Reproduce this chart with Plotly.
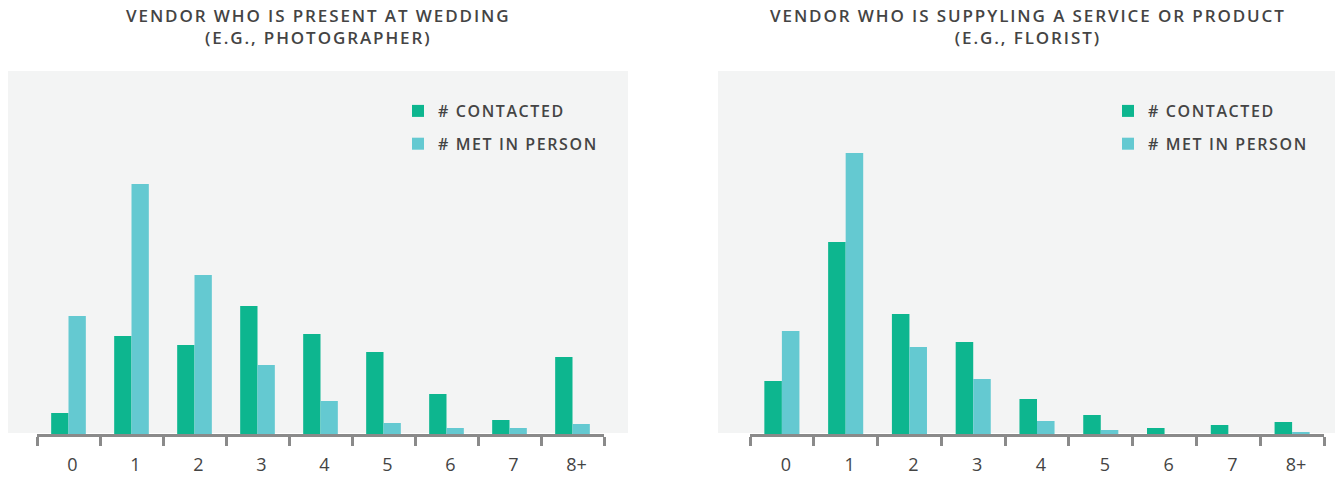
import plotly.graph_objects as go

categories = ["0", "1", "2", "3", "4", "5", "6", "7", "8+"]

# Left panel: vendor present at wedding (e.g., photographer)
present_contacted = [21, 98, 89, 128, 100, 82, 40, 14, 77]
present_met = [118, 250, 159, 69, 33, 11, 6, 6, 10]

# Right panel: vendor supplying service/product (e.g., florist)
supply_contacted = [53, 192, 120, 92, 35, 19, 6, 9, 12]
supply_met = [103, 281, 87, 55, 13, 4, 0, 0, 2]

series_names = ["# CONTACTED", "# MET IN PERSON"]
titles = [
    ["VENDOR WHO IS PRESENT AT WEDDING", "(E.G., PHOTOGRAPHER)"],
    ["VENDOR WHO IS SUPPYLING A SERVICE OR PRODUCT", "(E.G., FLORIST)"],
]

GREEN = "#0db68f"
CYAN = "#64c9d1"
BG = "#f3f4f4"
TXT = "#444444"
AXIS = "#8a8a8a"
FONT = "Open Sans"

# The page body has an 8px margin; size the figure so it fits the window.
OFF = 8
W, H = 1343 - OFF, 478 - OFF


def px_x(p):
    return (p - OFF) / W


def px_y(p):
    return (H - (p - OFF)) / H


def spaced(t, ls=1.6):
    return f'<span style="letter-spacing:{ls}px">{t}</span>'


fig = go.Figure()

panels = [
    (present_contacted, present_met, "x", "y", "legend"),
    (supply_contacted, supply_met, "x2", "y2", "legend2"),
]
for contacted, met, xa, ya, lg in panels:
    fig.add_trace(go.Bar(x=categories, y=contacted, name=spaced(series_names[0]),
                         marker=dict(color=GREEN, line=dict(width=0)),
                         xaxis=xa, yaxis=ya, legend=lg, legendgroup=lg + "a",
                         hoverinfo="x+y"))
    fig.add_trace(go.Bar(x=categories, y=met, name=spaced(series_names[1]),
                         marker=dict(color=CYAN, line=dict(width=0)),
                         xaxis=xa, yaxis=ya, legend=lg, legendgroup=lg + "b",
                         hoverinfo="x+y"))

xcommon = dict(
    type="category", showgrid=False, zeroline=False,
    showline=True, linecolor=AXIS, linewidth=3,
    ticks="outside", tickson="boundaries", ticklen=9, tickwidth=2.5, tickcolor=AXIS,
    tickfont=dict(family=FONT, size=18, color=TXT),
    ticklabelstandoff=12, ticklabelshift=4, fixedrange=True,
)
ycommon = dict(range=[0, 363], visible=False, showgrid=False, zeroline=False, fixedrange=True)

ybot, ytop = px_y(434), px_y(71)

legend_font = dict(family=FONT, size=16, color=TXT, weight=600)

fig.update_layout(
    width=W, height=H,
    margin=dict(l=0, r=0, t=0, b=0),
    paper_bgcolor="white", plot_bgcolor="rgba(0,0,0,0)",
    barmode="group", bargap=0.45, bargroupgap=0,
    xaxis=dict(domain=[px_x(37), px_x(604)], anchor="y", **xcommon),
    yaxis=dict(domain=[ybot, ytop], anchor="x", **ycommon),
    xaxis2=dict(domain=[px_x(750), px_x(1324)], anchor="y2", **xcommon),
    yaxis2=dict(domain=[ybot, ytop], anchor="x2", **ycommon),
    font=dict(family=FONT, color=TXT),
    legend=dict(x=px_x(398), y=px_y(94), xanchor="left", yanchor="top",
                bgcolor="rgba(0,0,0,0)", traceorder="grouped", tracegroupgap=9,
                font=legend_font),
    legend2=dict(x=px_x(1108), y=px_y(94), xanchor="left", yanchor="top",
                 bgcolor="rgba(0,0,0,0)", traceorder="grouped", tracegroupgap=9,
                 font=legend_font),
    shapes=[
        dict(type="rect", xref="paper", yref="paper", layer="below",
             x0=px_x(8), x1=px_x(628), y0=px_y(433), y1=px_y(71),
             fillcolor=BG, line=dict(width=0)),
        dict(type="rect", xref="paper", yref="paper", layer="below",
             x0=px_x(718), x1=px_x(1337), y0=px_y(433), y1=px_y(71),
             fillcolor=BG, line=dict(width=0)),
    ],
)

for (l1, l2), cx in zip(titles, [318, 1028]):
    fig.add_annotation(xref="paper", yref="paper", x=px_x(cx), y=px_y(26.5),
                       xanchor="center", yanchor="middle", showarrow=False,
                       text=spaced(l1, 1.9) + "<br>" + spaced(l2, 1.9),
                       font=dict(family=FONT, size=17, color=TXT, weight=600))

fig.write_html("out.html")
